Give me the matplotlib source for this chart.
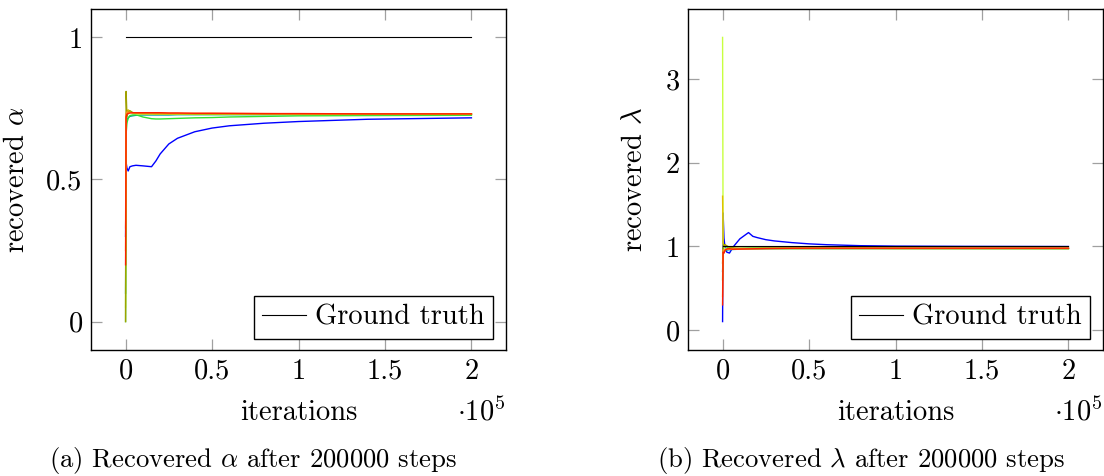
import matplotlib
matplotlib.use("Agg")
import matplotlib.pyplot as plt
from matplotlib.ticker import FuncFormatter

plt.rcParams['font.family'] = 'cmr10'
plt.rcParams['mathtext.fontset'] = 'cm'
plt.rcParams['axes.formatter.use_mathtext'] = True
plt.rcParams['font.size'] = 20.5

# iteration grid shared by all runs
iters = [0, 300, 800, 1500, 2500, 4000, 6000, 10000, 15000, 17500,
         20000, 25000, 30000, 40000, 50000, 60000, 80000, 100000, 140000, 200000]

# recovered alpha per run
alpha_blue = [0.30, 0.56, 0.54, 0.53, 0.545, 0.548, 0.55, 0.548, 0.545, 0.565,
              0.59, 0.625, 0.645, 0.668, 0.681, 0.689, 0.698, 0.704, 0.712, 0.717]
alpha_teal = [0.10, 0.69, 0.71, 0.718, 0.722, 0.724, 0.726, 0.727, 0.727, 0.727,
              0.727, 0.727, 0.728, 0.728, 0.728, 0.728, 0.728, 0.728, 0.729, 0.729]
alpha_green = [0.00, 0.66, 0.70, 0.715, 0.725, 0.727, 0.728, 0.72, 0.714, 0.713,
               0.713, 0.714, 0.715, 0.717, 0.718, 0.72, 0.722, 0.724, 0.725, 0.726]
alpha_lime = [0.05, 0.71, 0.735, 0.74, 0.738, 0.733, 0.731, 0.73, 0.73, 0.73,
              0.73, 0.73, 0.73, 0.729, 0.729, 0.729, 0.729, 0.729, 0.729, 0.729]
alpha_yellow = [0.25, 0.72, 0.742, 0.745, 0.74, 0.735, 0.733, 0.732, 0.732, 0.731,
                0.731, 0.731, 0.731, 0.731, 0.731, 0.731, 0.73, 0.73, 0.73, 0.73]
alpha_olive = [0.00, 0.81, 0.72, 0.738, 0.742, 0.736, 0.733, 0.732, 0.732, 0.732,
               0.732, 0.732, 0.732, 0.731, 0.731, 0.731, 0.731, 0.731, 0.731, 0.731]
alpha_orange = [0.33, 0.73, 0.738, 0.737, 0.736, 0.735, 0.734, 0.734, 0.734, 0.734,
                0.734, 0.733, 0.733, 0.733, 0.733, 0.732, 0.732, 0.731, 0.731, 0.731]
alpha_red = [0.20, 0.72, 0.73, 0.732, 0.734, 0.735, 0.735, 0.735, 0.735, 0.735,
             0.735, 0.734, 0.734, 0.733, 0.733, 0.733, 0.732, 0.732, 0.731, 0.731]

# recovered lambda per run
lam_blue = [0.10, 1.40, 1.10, 0.97, 0.93, 0.92, 0.99, 1.09, 1.165, 1.12,
            1.105, 1.08, 1.065, 1.045, 1.03, 1.02, 1.008, 1.003, 1.0, 0.998]
lam_teal = [0.70, 0.90, 0.93, 0.95, 0.955, 0.96, 0.963, 0.966, 0.968, 0.969,
            0.97, 0.971, 0.972, 0.973, 0.973, 0.973, 0.973, 0.973, 0.973, 0.973]
lam_green = [0.60, 0.95, 1.0, 1.01, 0.99, 0.975, 0.97, 0.975, 0.98, 0.981,
             0.982, 0.983, 0.983, 0.982, 0.981, 0.98, 0.978, 0.976, 0.975, 0.974]
lam_lime = [3.50, 1.02, 0.98, 0.97, 0.965, 0.968, 0.97, 0.972, 0.973, 0.973,
            0.974, 0.975, 0.975, 0.975, 0.975, 0.975, 0.975, 0.975, 0.975, 0.975]
lam_yellow = [1.60, 1.03, 1.02, 1.01, 1.0, 0.99, 0.98, 0.976, 0.975, 0.975,
              0.975, 0.975, 0.975, 0.975, 0.975, 0.975, 0.975, 0.975, 0.975, 0.975]
lam_olive = [0.80, 1.0, 1.02, 1.02, 1.005, 0.99, 0.98, 0.975, 0.974, 0.974,
             0.974, 0.975, 0.975, 0.975, 0.975, 0.975, 0.975, 0.975, 0.975, 0.975]
lam_orange = [0.40, 0.96, 0.95, 0.96, 0.965, 0.967, 0.968, 0.97, 0.972, 0.973,
              0.974, 0.975, 0.976, 0.977, 0.977, 0.977, 0.977, 0.976, 0.976, 0.976]
lam_red = [0.30, 0.93, 0.92, 0.955, 0.97, 0.972, 0.965, 0.968, 0.97, 0.971,
           0.972, 0.974, 0.975, 0.977, 0.978, 0.978, 0.978, 0.978, 0.978, 0.978]

truth_x = [0, 200000]
alpha_truth = [1.0, 1.0]
lam_truth = [1.0, 1.0]

run_colors = ['#0000ff', '#00a0a0', '#30e030', '#c8ff40',
              '#e0c000', '#a0a000', '#ff9020', '#ff2000']
alpha_runs = [alpha_blue, alpha_teal, alpha_green, alpha_lime,
              alpha_yellow, alpha_olive, alpha_orange, alpha_red]
lam_runs = [lam_blue, lam_teal, lam_green, lam_lime,
            lam_yellow, lam_olive, lam_orange, lam_red]

fig = plt.figure(figsize=(11.04, 4.76), dpi=100)
ax1 = fig.add_axes([91/1104, 126/476, 415/1104, 341/476])
ax2 = fig.add_axes([688/1104, 126/476, 415/1104, 341/476])


def style_axis(ax, ylim, yticks, ylabel, lab_x):
    ax.set_xlim(-20000, 220000)
    ax.set_ylim(*ylim)
    ax.set_xticks([0, 50000, 100000, 150000, 200000])
    ax.set_yticks(yticks)
    ax.xaxis.set_major_formatter(FuncFormatter(lambda v, p: '%g' % (v / 1e5)))
    ax.yaxis.set_major_formatter(FuncFormatter(lambda v, p: '%g' % v))
    ax.tick_params(direction='in', length=8, width=0.9, color='#a0a0a0',
                   top=True, right=True, pad=6, labelsize=20.5)
    for s in ax.spines.values():
        s.set_linewidth(1.0)
    ax.set_xlabel('iterations')
    ax.xaxis.set_label_coords(0.5, -0.145)
    ax.set_ylabel(ylabel)
    ax.yaxis.set_label_coords(lab_x, 0.5)
    ax.text(1.0, -0.208, r'$\cdot 10^5$', transform=ax.transAxes,
            ha='right', va='baseline', fontsize=20.5)
    leg = ax.legend(loc='lower right', bbox_to_anchor=(0.969, 0.032),
                    borderaxespad=0, fancybox=False, framealpha=1,
                    edgecolor='black', handlelength=1.55, handletextpad=0.3,
                    borderpad=0.3, fontsize=20.5)
    leg.get_frame().set_linewidth(1.0)


for ys, c in zip(alpha_runs, run_colors):
    ax1.plot(iters, ys, color=c, lw=1.0)
ax1.plot(truth_x, alpha_truth, color='black', lw=0.8, label='Ground truth')
style_axis(ax1, (-0.1, 1.1), [0, 0.5, 1], r'recovered $\alpha$', -0.147)

for ys, c in zip(lam_runs, run_colors):
    ax2.plot(iters, ys, color=c, lw=1.0)
ax2.plot(truth_x, lam_truth, color='black', lw=0.8, label='Ground truth')
style_axis(ax2, (-0.24, 3.84), [0, 1, 2, 3], r'recovered $\lambda$', -0.096)

fig.text(253/1104, 1 - 460/476, r'(a) Recovered $\alpha$ after 200000 steps',
         ha='center', va='center', fontsize=19.2)
fig.text(861/1104, 1 - 460/476, r'(b) Recovered $\lambda$ after 200000 steps',
         ha='center', va='center', fontsize=19.2)

fig.savefig('out.png', dpi=100)
